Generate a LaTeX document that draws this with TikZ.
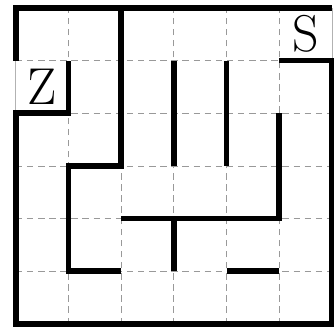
\documentclass[tikz,border=0pt]{standalone}
\usepackage{tikz}

\tikzset{
  wall/.style={line width=3.1pt, line join=miter},
  mark label/.style={font=\fontsize{28}{32}\selectfont, inner sep=0pt}
}

\begin{document}
\begin{tikzpicture}[scale=1]
    \useasboundingbox (-0.30,-0.11) rectangle (6.04,6.15);
    % grid
    \draw[gray!80, dash pattern=on 3.5pt off 2.5pt, thin] (0,0) grid (6,6);
    \draw[gray!60, thin] (0,0) rectangle (6,6);
    % outer walls
    \draw[wall] (0,5) -- (0,6) -- (6,6);
    \draw[wall] (5,5) -- (6,5) -- (6,0) -- (0,0) -- (0,4) -- (1,4) -- (1,5);
    % inner walls
    \draw[wall] (2,6) -- (2,3) -- (1,3) -- (1,1) -- (2,1);
    \draw[wall] (2,2) -- (5,2) -- (5,4);
    \draw[wall] (3,5) -- (3,3);
    \draw[wall] (4,5) -- (4,3);
    \draw[wall] (3,2) -- (3,1);
    \draw[wall] (4,1) -- (5,1);
    % start and goal
    \node[mark label] (goal) at (0.5,4.5) {Z};
    \node[mark label] (start) at (5.5,5.5) {S};
\end{tikzpicture}
\end{document}
